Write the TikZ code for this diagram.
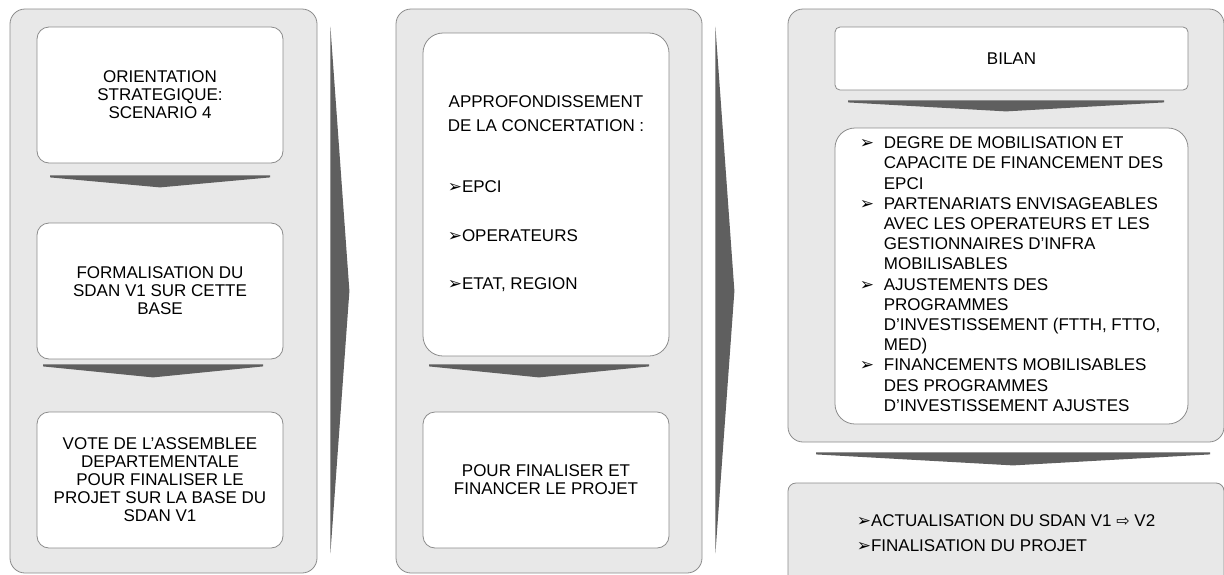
\documentclass[tikz,border=0pt]{standalone}
\usepackage{fontspec}
\setmainfont{Liberation Sans}
\newfontfamily\symb{DejaVu Sans}
\usetikzlibrary{calc}

\definecolor{fondgris}{HTML}{E8E8E8}
\definecolor{bordgris}{HTML}{8C8C8C}
\definecolor{flechefond}{HTML}{5F5F5F}
\newcommand{\puce}{{\symb\fontsize{17}{17}\selectfont ➢}}

\tikzset{
  panneau/.style={draw=bordgris, line width=0.8pt, fill=fondgris, rounded corners=15pt, inner sep=0pt},
  etape/.style={draw=bordgris, line width=0.8pt, fill=white, rounded corners=12pt, inner sep=0pt,
    align=center, font=\fontsize{17}{18}\selectfont},
  flechegris/.style={fill=flechefond}
}
% fleche vers le bas : #1 haut-centre, #2 demi-largeur, #3 hauteur
\newcommand{\flechebas}[3]{%
  \fill[flechegris] ($(#1)+(-#2,0)$) -- ($(#1)+(#2,0)$) -- ($(#1)+(#2,2)$)
    -- ($(#1)+(0,#3)$) -- ($(#1)+(-#2,2)$) -- cycle;}

\begin{document}
\begin{tikzpicture}[x=1pt, y=-1pt]
\useasboundingbox (0,0) rectangle (1224,574);
\clip (0,0) rectangle (1224,574);
\fill[white] (0,0) rectangle (1224,574);

% Colonnes
\node[panneau, minimum width=307pt, minimum height=564pt] (col1) at (163.5,291) {};
\node[panneau, minimum width=306pt, minimum height=564pt] (col2) at (549,291) {};
\node[panneau, minimum width=436pt, minimum height=433pt] (col3) at (1006,225.5) {};

% Colonne 1
\node[etape, minimum width=246pt, minimum height=136pt] (orient) at (160,95)
  {ORIENTATION\\STRATEGIQUE:\\SCENARIO 4};
\node[etape, minimum width=246pt, minimum height=136pt] (formal) at (160,291)
  {FORMALISATION DU\\SDAN V1 SUR CETTE\\BASE};
\node[etape, minimum width=246pt, minimum height=136pt] (vote) at (160,480)
  {VOTE DE L’ASSEMBLEE\\DEPARTEMENTALE\\POUR FINALISER LE\\PROJET SUR LA BASE DU\\SDAN V1};

% Colonne 2
\node[etape, rounded corners=20pt, minimum width=246pt, minimum height=323pt,
  font=\fontsize{17}{20}\selectfont] (concert) at (546,194.5)
  {\begin{tabular}{@{}l@{}}
    \multicolumn{1}{@{}c@{}}{APPROFONDISSEMENT}\\[4pt]
    \multicolumn{1}{@{}c@{}}{DE LA CONCERTATION :}\\[41pt]
    \puce EPCI\\[29pt]
    \puce OPERATEURS\\[28pt]
    \puce ETAT, REGION
  \end{tabular}};
\node[etape, minimum width=246pt, minimum height=136pt] (financer) at (546,480)
  {POUR FINALISER ET\\FINANCER LE PROJET};

% Colonne 3
\node[etape, rounded corners=5pt, minimum width=353pt, minimum height=63pt] (bilan) at (1011.5,58.5) {BILAN};
\node[etape, rounded corners=20pt, minimum width=353pt, minimum height=296pt,
  font=\fontsize{17}{20.2}\selectfont] (leviers) at (1011.5,276)
  {\begin{tabular}{@{}l@{}l@{}}
    \makebox[24pt][l]{\puce} & DEGRE DE MOBILISATION ET\\
     & CAPACITE DE FINANCEMENT DES\\
     & EPCI\\
    \makebox[24pt][l]{\puce} & PARTENARIATS ENVISAGEABLES\\
     & AVEC LES OPERATEURS ET LES\\
     & GESTIONNAIRES D’INFRA\\
     & MOBILISABLES\\
    \makebox[24pt][l]{\puce} & AJUSTEMENTS DES\\
     & PROGRAMMES\\
     & D’INVESTISSEMENT (FTTH, FTTO,\\
     & MED)\\
    \makebox[24pt][l]{\puce} & FINANCEMENTS MOBILISABLES\\
     & DES PROGRAMMES\\
     & D’INVESTISSEMENT AJUSTES
  \end{tabular}};
\node[panneau, rounded corners=8pt, minimum width=436pt, minimum height=102pt,
  font=\fontsize{17}{25}\selectfont] (actu) at (1006,534)
  {\begin{tabular}{@{}l@{}}
    \puce ACTUALISATION DU SDAN V1 {\symb\fontsize{16}{16}\selectfont ⇨} V2\\
    \puce FINALISATION DU PROJET
  \end{tabular}};

% Fleches vers le bas
\coordinate (f1) at ($(orient.south)+(0,12)$);
\coordinate (f2) at ($(formal.south)+(-7,5)$);
\coordinate (f3) at ($(concert.south)+(-7,8)$);
\coordinate (f4) at ($(bilan.south)+(-5.5,10)$);
\coordinate (f5) at ($(col3.south)+(7,10)$);
\flechebas{f1}{110}{12}
\flechebas{f2}{110}{13}
\flechebas{f3}{110}{13}
\flechebas{f4}{158}{11}
\flechebas{f5}{197}{13}

% Fleches entre colonnes
\fill[flechegris] ($(col1.north east)+(13,18)$) -- ($(col1.east)+(32,0)$) -- ($(col1.south east)+(13,-20)$) -- cycle;
\fill[flechegris] ($(col2.north east)+(13,18)$) -- ($(col2.east)+(32,0)$) -- ($(col2.south east)+(13,-20)$) -- cycle;
\end{tikzpicture}
\end{document}
